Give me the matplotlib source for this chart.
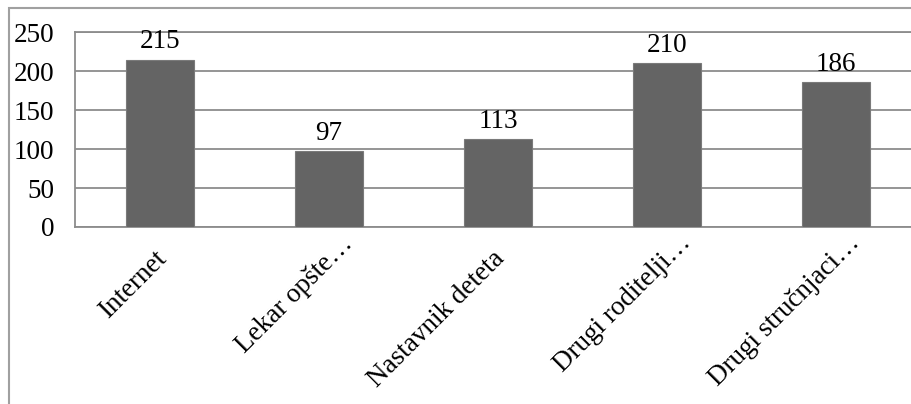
import matplotlib.pyplot as plt
from matplotlib.patches import Rectangle
from matplotlib.transforms import ScaledTranslation

categories = ['Internet', 'Lekar opšte…', 'Nastavnik deteta', 'Drugi roditelji…', 'Drugi stručnjaci…']
values = [215, 97, 113, 210, 186]
y_ticks = [0, 50, 100, 150, 200, 250]

plt.rcParams['font.family'] = ['Liberation Serif', 'DejaVu Serif']
fs = 19.5

W, H = 912, 404
fig = plt.figure(figsize=(W / 100, H / 100), dpi=100)

# outer chart border (runs off the right and bottom of the image)
fig.patches.append(Rectangle((9 / W, -0.1), 2, (H - 8) / H + 0.1,
                             transform=fig.transFigure, fill=False,
                             edgecolor='#a0a0a0', linewidth=1.5))

left, right, top, bottom = 75.4, 920.6, 32.3, 227
ax = fig.add_axes([left / W, (H - bottom) / H, (right - left) / W, (bottom - top) / H])

x = range(len(categories))
bars = ax.bar(x, values, width=0.4, color='#646464', edgecolor='#7a7a7a',
              linewidth=0.8, zorder=3)
for b, v in zip(bars, values):
    ax.annotate(str(v), (b.get_x() + b.get_width() / 2, v), xytext=(0, 8),
                textcoords='offset points', ha='center', va='baseline',
                fontsize=fs, color='black')

ax.set_xlim(-0.5, len(categories) - 0.5)
ax.set_ylim(0, 250)
ax.set_yticks(y_ticks)
ax.set_yticklabels([str(t) for t in y_ticks], fontsize=fs)
ax.yaxis.grid(True, color='#8c8c8c', linewidth=1.3, zorder=0)
ax.tick_params(axis='y', length=0, pad=15)
ax.tick_params(axis='x', length=0, pad=9)
ax.set_xticks(list(x))
ax.set_xticklabels(categories, fontsize=fs, rotation=45, ha='right',
                   rotation_mode='anchor')
# truncated labels sit a little further up the slant, like in the original
for lbl in ax.get_xticklabels():
    if lbl.get_text().endswith('…'):
        dx, dy = 11, 9
    else:
        dx, dy = -6, -7
    lbl.set_transform(lbl.get_transform() + ScaledTranslation(dx / 100, dy / 100, fig.dpi_scale_trans))
for s in ax.spines.values():
    s.set_color('#8c8c8c')
    s.set_linewidth(1.3)

fig.savefig('out.png', dpi=100)
